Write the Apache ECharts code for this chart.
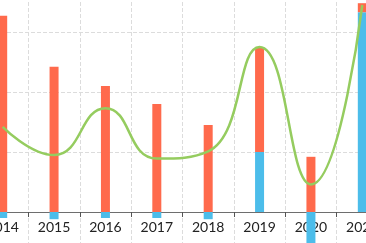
<!DOCTYPE html>
<html><head><meta charset="utf-8">
<script src="https://cdn.jsdelivr.net/npm/echarts@6/dist/echarts.min.js"></script>
<style>
html,body{margin:0;padding:0;background:#fff;width:366px;height:243px;overflow:hidden;position:relative}
#c{position:absolute;left:-23.5px;top:-28px;width:410.5px;height:300px}
</style>
</head><body><div id="c"></div>
<script>
const years = ['2014','2015','2016','2017','2018','2019','2020','2021'];
const blueVals = [-1, -1.2, -1, -1, -1.2, 10, -5.2, 33.3];
const orangeVals = [32.7, 24.2, 21, 18, 14.5, 17.5, 9.2, 1.5];
const lineVals = [14.2, 9.5, 17.3, 8.9, 10.1, 27.5, 4.6, 34.5];
const yTicks = { min: -10, max: 40, interval: 10 };

const chart = echarts.init(document.getElementById('c'), null, {renderer: 'canvas'});
chart.setOption({
  animation: false,
  grid: { left: 0, right: 0, top: 0, bottom: 0, containLabel: false, outerBoundsMode: 'none' },
  xAxis: {
    type: 'category', data: years, boundaryGap: true, position: 'bottom', offset: -60,
    axisLine: { onZero: false, lineStyle: { color: '#6e6e6e', width: 1 } },
    axisTick: { show: true, interval: 0, length: 5, lineStyle: { color: '#555' } },
    axisLabel: { interval: 0, margin: 8, fontSize: 14, color: '#222', fontFamily: 'Lato' },
    splitLine: { show: true, interval: 0, lineStyle: { type: 'dashed', color: '#dcdcdc' } }
  },
  yAxis: {
    type: 'value', min: yTicks.min, max: yTicks.max, interval: yTicks.interval,
    axisLabel: { show: false }, axisLine: { show: false }, axisTick: { show: false },
    splitLine: { show: true, lineStyle: { type: 'dashed', color: '#dcdcdc' } }
  },
  series: [
    { type: 'bar', stack: 's', data: blueVals, barWidth: 9, itemStyle: { color: '#4cbdea' } },
    { type: 'bar', stack: 's', data: orangeVals, barWidth: 9, itemStyle: { color: '#ff6a4c' } },
    { type: 'line', data: lineVals, smooth: true, showSymbol: false, z: 5,
      lineStyle: { color: '#95cc5f', width: 2.5 } }
  ]
});
</script></body></html>
